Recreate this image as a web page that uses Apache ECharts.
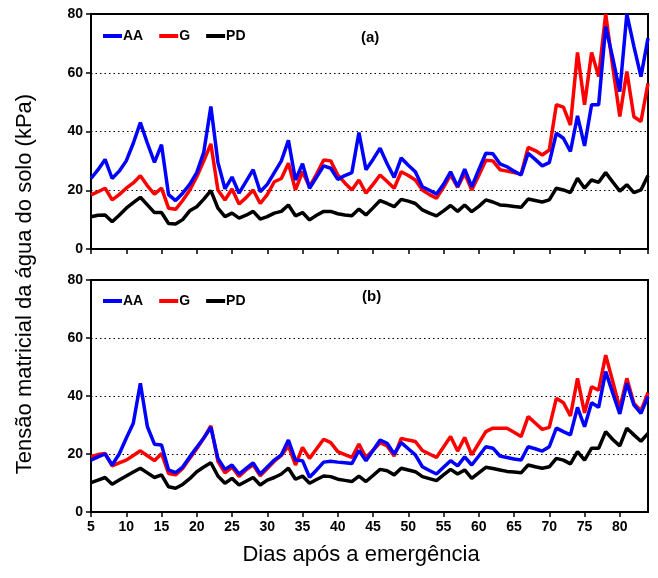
<!DOCTYPE html>
<html>
<head>
<meta charset="utf-8">
<script src="https://cdn.jsdelivr.net/npm/echarts@6/dist/echarts.min.js"></script>
<style>
  html, body { margin: 0; padding: 0; background: #fff; }
  #chart { width: 658px; height: 578px; }
</style>
</head>
<body>
<div id="chart"></div>
<script>
// dias após a emergência
const days = [5, 6, 7, 8, 9, 10, 11, 12, 13, 14, 15, 16, 17, 18, 19, 20, 21, 22, 23, 24,
  25, 26, 27, 28, 29, 30, 31, 32, 33, 34, 35, 36, 37, 38, 39, 40, 41, 42, 43, 44,
  45, 46, 47, 48, 49, 50, 51, 52, 53, 54, 55, 56, 57, 58, 59, 60, 61, 62, 63, 64,
  65, 66, 67, 68, 69, 70, 71, 72, 73, 74, 75, 76, 77, 78, 79, 80, 81, 82, 83, 84];

const yTicks = [0, 20, 40, 60, 80];

// painel (a)
const aaA = [24, 27, 30.5, 24, 26.5, 30, 36, 43, 36, 29.5,
  35.5, 18.5, 16.5, 19, 22, 26, 33, 48.5, 29.5, 20.5,
  24.5, 19, 23, 27, 19.5, 22, 26, 30, 37, 23.5,
  29, 20.7, 24.5, 28.3, 27.5, 23.7, 25, 26, 39.6, 27,
  30.5, 34.3, 29, 24.4, 31, 28.5, 26.3, 21.2, 20, 18.7,
  22, 26.3, 21.2, 27.2, 21.2, 27, 32.6, 32.4, 29, 28,
  26.5, 25.2, 32.6, 30.5, 28.3, 29.4, 39.4, 37.7, 33.2, 45.3,
  35.1, 49.1, 49.1, 75.7, 65, 53.6, 80, 69, 58.7, 71.8];
const gA = [18.4, 19.5, 20.7, 16.7, 18.5, 20.7, 22.5, 24.9, 21.5, 18.7,
  20.7, 13.9, 13.5, 16.5, 20, 24.6, 30, 35.8, 20.1, 16.7,
  20.4, 15.3, 17.5, 20.1, 15.5, 18.5, 22.9, 24, 29.2, 20.1,
  26.3, 21.2, 25.5, 30.3, 30, 25.2, 22.5, 20.1, 23.5, 19,
  22, 25.2, 23, 20.7, 26.3, 25, 23.5, 20.1, 18.5, 17.3,
  21, 25.2, 21, 25.8, 20.1, 25, 30.2, 30, 27, 26.5,
  26, 25.5, 34.6, 33.5, 32, 33.7, 49.1, 48.3, 42.2, 66.9,
  49.1, 66.9, 58.7, 80, 62, 45.1, 60.4, 45, 43.4, 56.4];
const pdA = [11, 11.5, 11.6, 9.3, 11.5, 13.9, 15.8, 17.6, 15, 12.4,
  12.4, 8.7, 8.5, 10, 13, 14.4, 17, 19.9, 13.9, 11,
  12.2, 10.5, 11.5, 12.8, 10.2, 11, 12.2, 12.8, 15, 11.3,
  12.4, 9.9, 11.5, 12.8, 12.8, 12, 11.6, 11.3, 13.6, 11.6,
  14, 16.5, 15.5, 14.4, 16.9, 16.3, 15.5, 13.3, 12.2, 11.3,
  13, 14.8, 12.8, 15, 12.7, 14.5, 16.7, 16, 15, 14.8,
  14.5, 14.2, 17, 16.5, 16, 16.7, 20.7, 20.1, 19.2, 24.1,
  20.7, 23.5, 22.7, 26, 22.8, 19.7, 21.9, 19.2, 20.1, 25];

// painel (b)
const aaB = [17.9, 19, 20, 16.2, 20, 25.4, 30.6, 44.4, 29.4, 23.4,
  23.1, 14.5, 13.6, 15.5, 19, 22.3, 25.5, 29.2, 18.5, 14.7,
  16.2, 13.1, 15, 16.9, 13.1, 15.5, 17.9, 19.7, 24.8, 17.9,
  17.7, 12, 14.5, 17.2, 17.5, 17.2, 17, 16.7, 21.2, 17.7,
  21.2, 24.8, 23.7, 20, 23.9, 21.8, 19.7, 15.6, 14.3, 13.1,
  15.4, 17.7, 15.9, 19, 16.2, 19.3, 22.5, 22, 19.3, 18.8,
  18.3, 17.9, 22.5, 21.8, 21, 22.5, 28.9, 27.7, 26.6, 36.1,
  29.4, 37.7, 36.1, 48.4, 41, 33.8, 44.4, 36.9, 34, 39.8];
const gB = [19.1, 19.8, 20.2, 15.9, 16.9, 17.9, 19.5, 21.1, 19.4, 17.7,
  20.2, 13.3, 12.8, 15, 18.5, 21.8, 25.5, 29.7, 17.5, 13.5,
  15.5, 12.3, 14.5, 16.3, 12.5, 15, 17.5, 19.5, 22.8, 16.2,
  22.3, 18.5, 21.8, 25.1, 23.9, 20.8, 19.8, 18.8, 23.4, 18.8,
  21.3, 23.9, 22.8, 19.3, 25.4, 24.8, 24.3, 21.2, 20, 18.8,
  22.4, 26, 21, 25.7, 19.7, 23.7, 27.7, 28.9, 28.9, 28.9,
  27.5, 26, 32.9, 30.7, 28.5, 29.2, 39.2, 37.7, 33.1, 46.1,
  34.2, 43.2, 42, 54.1, 45, 35.7, 46.1, 37.4, 34.9, 41.2];
const pdB = [10.1, 11, 11.9, 9.6, 11, 12.4, 13.8, 15.1, 13.5, 11.9,
  12.8, 8.7, 8.2, 9.5, 11.5, 13.9, 15.5, 17, 12.4, 9.9,
  11.6, 9.3, 10.6, 11.9, 9.3, 11, 11.9, 13.1, 15.1, 11.3,
  12.4, 9.9, 11.2, 12.4, 12.2, 11.3, 10.9, 10.5, 12.4, 10.5,
  12.6, 14.7, 14.2, 12.8, 15.1, 14.5, 13.9, 12.2, 11.5, 10.8,
  12.8, 14.7, 13.1, 14.5, 11.6, 13.5, 15.4, 15, 14.5, 14,
  13.8, 13.5, 16.2, 15.6, 15.1, 15.6, 18.5, 17.9, 16.6, 20.8,
  17.9, 22, 22, 27.7, 25, 22.8, 28.9, 26.6, 24.4, 27.1];

const FONT = 'Liberation Sans';
const pair = (arr) => days.map((d, i) => [d, arr[i]]);

const myChart = echarts.init(document.getElementById('chart'), null, { renderer: 'canvas' });

function xAxisFor(idx, showLabel) {
  return {
    type: 'value',
    gridIndex: idx,
    min: 5,
    max: 84,
    interval: 5,
    axisLine: { show: true, lineStyle: { color: '#000', width: 2 } },
    axisTick: { show: true, inside: false, length: 5, lineStyle: { color: '#000', width: 1.5 } },
    axisLabel: {
      show: showLabel,
      showMaxLabel: false,
      color: '#000',
      fontFamily: FONT,
      fontWeight: 'bold',
      fontSize: 14,
      margin: 8,
    },
    splitLine: { show: false },
  };
}

function yAxisFor(idx) {
  return {
    type: 'value',
    gridIndex: idx,
    min: yTicks[0],
    max: yTicks[yTicks.length - 1],
    interval: 20,
    axisLine: { show: true, lineStyle: { color: '#000', width: 2 } },
    axisTick: { show: true, inside: false, length: 5, lineStyle: { color: '#000', width: 1.5 } },
    axisLabel: {
      color: '#000',
      fontFamily: FONT,
      fontWeight: 'bold',
      fontSize: 14,
      margin: 8,
    },
    splitLine: { show: true, lineStyle: { color: '#000', type: [1.5, 3], width: 1 } },
  };
}

function lineSeries(name, idx, arr, color) {
  return {
    name: name,
    type: 'line',
    xAxisIndex: idx,
    yAxisIndex: idx,
    data: pair(arr),
    showSymbol: false,
    symbol: 'none',
    lineStyle: { color: color, width: 3.5 },
    itemStyle: { color: color },
    animation: false,
  };
}

const legendBase = {
  orient: 'horizontal',
  data: ['AA', 'G', 'PD'],
  icon: 'rect',
  itemWidth: 19,
  itemHeight: 4,
  itemGap: 16,
  textStyle: { color: '#000', fontFamily: FONT, fontWeight: 'bold', fontSize: 14, padding: [0, 0, 0, -4] },
  selectedMode: false,
};

const option = {
  backgroundColor: '#fff',
  animation: false,
  grid: [
    { left: 91, right: 10, top: 14, height: 235, show: true, borderColor: '#000', borderWidth: 2 },
    { left: 91, right: 10, top: 280, height: 232, show: true, borderColor: '#000', borderWidth: 2 },
  ],
  legend: [
    Object.assign({}, legendBase, { left: 98, top: 24 }),
    Object.assign({}, legendBase, { left: 98, top: 289 }),
  ],
  xAxis: [xAxisFor(0, false), xAxisFor(1, true)],
  yAxis: [yAxisFor(0), yAxisFor(1)],
  graphic: [
    {
      type: 'text', left: 361, top: 30,
      style: { text: '(a)', fill: '#000', font: 'bold 15px "Liberation Sans"' },
    },
    {
      type: 'text', left: 362, top: 289,
      style: { text: '(b)', fill: '#000', font: 'bold 15px "Liberation Sans"' },
    },
    {
      type: 'text',
      x: 14, y: 284,
      rotation: Math.PI / 2,
      style: {
        text: 'Tensão matricial da água do solo (kPa)',
        fill: '#000',
        font: '22px "Liberation Sans"',
        align: 'center',
        verticalAlign: 'top',
      },
    },
    {
      type: 'text',
      x: 361, y: 544,
      style: {
        text: 'Dias após a emergência',
        fill: '#000',
        font: '22px "Liberation Sans"',
        align: 'center',
        verticalAlign: 'top',
      },
    },
  ],
  series: [
    lineSeries('PD', 0, pdA, '#000000'),
    lineSeries('G', 0, gA, '#ff0000'),
    lineSeries('AA', 0, aaA, '#0000ff'),
    lineSeries('PD', 1, pdB, '#000000'),
    lineSeries('G', 1, gB, '#ff0000'),
    lineSeries('AA', 1, aaB, '#0000ff'),
  ],
};

myChart.setOption(option);
window.addEventListener('resize', myChart.resize);
</script>
</body>
</html>
